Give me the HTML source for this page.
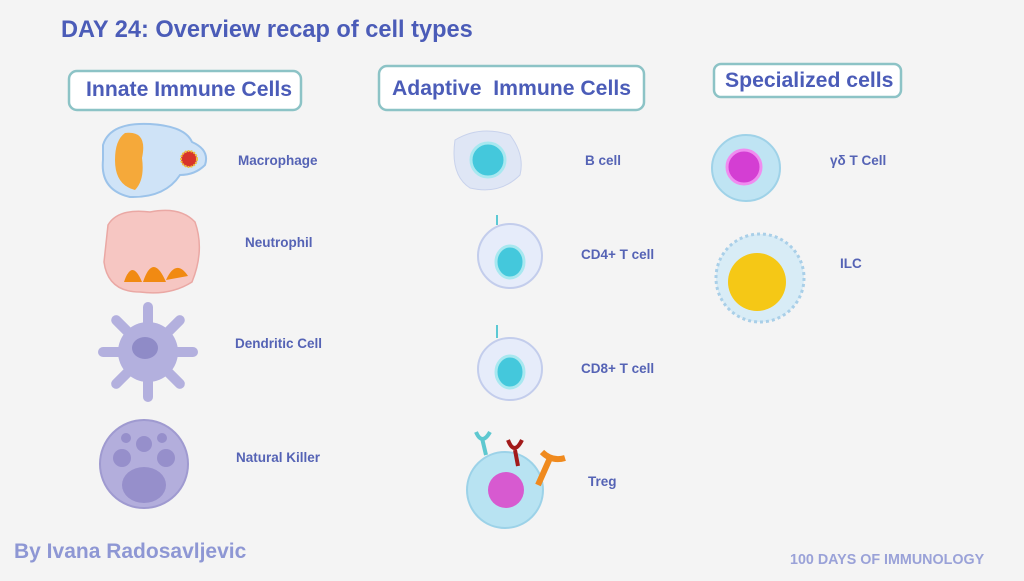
<!DOCTYPE html><html><head><style>
body{margin:0;width:1024px;height:576px;background:#f4f4f4;overflow:hidden;font-family:"Liberation Sans",sans-serif}
</style></head><body>
<svg width="1024" height="576" xmlns="http://www.w3.org/2000/svg" font-family="Liberation Sans, sans-serif">
<rect width="1024" height="576" fill="#f4f4f4"/>
<text x="61" y="37" font-size="23.6" font-weight="bold" fill="#4b5cb8">DAY 24: Overview recap of cell types</text>
<g fill="#fff" stroke="#8cc3c6" stroke-width="2.5">
<rect x="69" y="71" width="232" height="39" rx="8"/>
<rect x="379" y="66" width="265" height="44" rx="8"/>
<rect x="714" y="64" width="187" height="33" rx="7"/>
</g>
<g font-weight="bold" fill="#4b5cb8" font-size="21.2">
<text x="86" y="96">Innate Immune Cells</text>
<text x="392" y="95">Adaptive&#160; Immune Cells</text>
<text x="725" y="87">Specialized cells</text>
</g>
<g font-weight="bold" fill="#5563b5" font-size="13.5">
<text x="238" y="165">Macrophage</text>
<text x="245" y="247">Neutrophil</text>
<text x="235" y="348">Dendritic Cell</text>
<text x="236" y="462">Natural Killer</text>
<text x="585" y="165">B cell</text>
<text x="581" y="259">CD4+ T cell</text>
<text x="581" y="373">CD8+ T cell</text>
<text x="588" y="486">Treg</text>
<text x="830" y="165">γδ T Cell</text>
<text x="840" y="268">ILC</text>
</g>
<!-- macrophage -->
<path d="M103 145 Q110 122 150 124 Q185 126 192 142 Q210 150 205 165 Q195 175 180 175 Q165 198 130 197 Q100 190 103 160Z" fill="#cfe3f7" stroke="#9cc3ea" stroke-width="2"/>
<path d="M125 133 Q148 130 142 158 Q145 180 135 190 Q115 185 115 160 Q115 140 125 133Z" fill="#f5a93a"/>
<circle cx="189" cy="159" r="8" fill="#d8342a" stroke="#f0c040" stroke-width="2" stroke-dasharray="2 1"/>
<!-- neutrophil -->
<path d="M108 225 Q118 208 150 212 Q180 206 195 222 Q205 250 192 282 Q170 296 140 292 Q108 292 104 262Z" fill="#f6c6c2" stroke="#eaa8a4" stroke-width="1.5"/>
<path d="M124 282 Q132 258 142 282Z M143 282 Q153 252 166 282Z M166 280 Q176 258 188 276Z" fill="#f18a12"/>
<!-- dendritic -->
<g fill="#b3b0de">
<g transform="translate(148 352)">
<rect x="-5" y="-50" width="10" height="50" rx="5"/>
<rect x="-5" y="-50" width="10" height="50" rx="5" transform="rotate(45)"/>
<rect x="-5" y="-50" width="10" height="50" rx="5" transform="rotate(90)"/>
<rect x="-5" y="-50" width="10" height="50" rx="5" transform="rotate(135)"/>
<rect x="-5" y="-50" width="10" height="50" rx="5" transform="rotate(180)"/>
<rect x="-5" y="-50" width="10" height="50" rx="5" transform="rotate(225)"/>
<rect x="-5" y="-50" width="10" height="50" rx="5" transform="rotate(270)"/>
<rect x="-5" y="-50" width="10" height="50" rx="5" transform="rotate(315)"/>
</g>
<circle cx="148" cy="352" r="30"/>
</g>
<ellipse cx="145" cy="348" rx="13" ry="11" fill="#8f8bc7"/>
<!-- NK -->
<circle cx="144" cy="464" r="44" fill="#b3aedc" stroke="#9f9ad0" stroke-width="2"/>
<g fill="#968fcb"><ellipse cx="144" cy="485" rx="22" ry="18"/><circle cx="122" cy="458" r="9"/><circle cx="166" cy="458" r="9"/><circle cx="144" cy="444" r="8"/><circle cx="126" cy="438" r="5"/><circle cx="162" cy="438" r="5"/></g>
<!-- B cell -->
<path d="M455 140 Q480 125 510 135 Q525 155 520 175 Q500 195 470 188 Q450 175 455 140Z" fill="#dfe6f5" stroke="#c8d2ec"/>
<circle cx="488" cy="160" r="17" fill="#44c8dc" stroke="#a8e8f0" stroke-width="3"/>
<!-- CD4 -->
<ellipse cx="510" cy="256" rx="32" ry="32" fill="#e6ecfa" stroke="#c3cdec" stroke-width="2"/>
<ellipse cx="510" cy="262" rx="14" ry="16" fill="#44c8dc" stroke="#a8e8f0" stroke-width="3"/>
<path d="M497 225 V215" stroke="#5cc9d4" stroke-width="2"/>
<!-- CD8 -->
<ellipse cx="510" cy="369" rx="32" ry="31" fill="#e6ecfa" stroke="#c3cdec" stroke-width="2"/>
<ellipse cx="510" cy="372" rx="14" ry="16" fill="#44c8dc" stroke="#a8e8f0" stroke-width="3"/>
<path d="M497 338 V325" stroke="#5cc9d4" stroke-width="2"/>
<!-- Treg -->
<circle cx="505" cy="490" r="38" fill="#b8e3f2" stroke="#9cd2e8" stroke-width="2"/>
<circle cx="506" cy="490" r="18" fill="#d75ad0"/>
<path d="M486 455 L482 438 M476 432 Q482 446 490 432" stroke="#5ec8d0" stroke-width="4" fill="none"/>
<path d="M518 466 L515 450 M508 440 Q514 456 522 440" stroke="#a21a1a" stroke-width="4" fill="none"/>
<path d="M538 485 L550 458 M542 452 Q552 462 565 458" stroke="#f08a1e" stroke-width="6" fill="none"/>
<!-- gd T -->
<ellipse cx="746" cy="168" rx="34" ry="33" fill="#bfe4f3" stroke="#9fd2e8" stroke-width="2"/>
<circle cx="744" cy="167" r="17" fill="#d43ed3" stroke="#f08cf0" stroke-width="3"/>
<!-- ILC -->
<circle cx="760" cy="278" r="44" fill="#d8ecf6" stroke="#a9cfe8" stroke-width="3" stroke-dasharray="3 3"/>
<circle cx="757" cy="282" r="29" fill="#f5c816"/>
<text x="14" y="558" font-size="21" font-weight="bold" fill="#8e97d4">By Ivana Radosavljevic</text>
<text x="790" y="564" font-size="14.3" font-weight="bold" fill="#9aa2d8">100 DAYS OF IMMUNOLOGY</text>
</svg>
</body></html>
